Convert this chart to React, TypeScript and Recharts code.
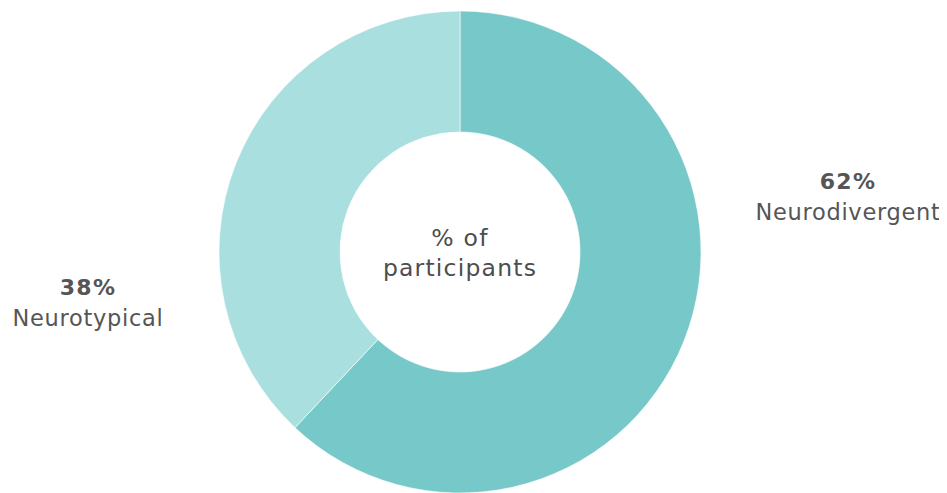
import { Pie, PieChart } from 'recharts';

const groups = ['Neurodivergent', 'Neurotypical'];
const shares = [62, 38];
const colors = ['#76c8c9', '#aadfdf'];
const centerLines = ['% of', 'participants'];

const data = groups.map((name, i) => ({ name, value: shares[i], fill: colors[i] }));

const FONT = '"DejaVu Sans", "Open Sans", sans-serif';
const TEXT = '#555555';

const SideLabel = (props: any) => {
  const { cx, cy, outerRadius, index, name, value } = props;
  // right label for the first slice, left label for the second
  const right = index === 0;
  const x = right ? cx + outerRadius + 147 : cx - outerRadius - 131;
  const y = right ? cy - 63 : cy + 43;
  return (
    <g>
      <text x={x} y={y} textAnchor="middle" fontFamily={FONT} fontSize={22} fontWeight={700} letterSpacing={1.2} fill={TEXT}>
        {value}%
      </text>
      <text x={x} y={y + 31} textAnchor="middle" fontFamily={FONT} fontSize={22.5} letterSpacing={0.7} fill={TEXT}>
        {name}
      </text>
    </g>
  );
};

export default function App() {
  return (
    <PieChart width={939} height={485} margin={{ top: 0, right: 0, bottom: 0, left: 0 }}>
      <Pie
        data={data}
        dataKey="value"
        nameKey="name"
        cx={452}
        cy={244}
        innerRadius={120}
        outerRadius={241}
        startAngle={90}
        endAngle={-270}
        stroke="#ffffff"
        strokeWidth={0.6}
        label={SideLabel}
        labelLine={false}
        isAnimationActive={false}
      />
      <text x={452} y={238} textAnchor="middle" fontFamily={FONT} fontSize={23.5} letterSpacing={1.2} fill="#4d4d4d">
        <tspan x={452} dy={0}>{centerLines[0]}</tspan>
        <tspan x={452} dy={30}>{centerLines[1]}</tspan>
      </text>
    </PieChart>
  );
}
